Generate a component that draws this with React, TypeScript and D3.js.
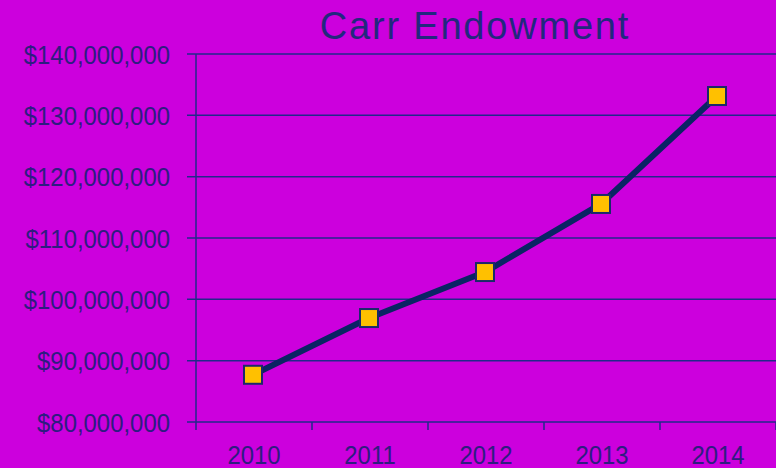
import React from "react";
import * as d3 from "d3";

const years = ["2010", "2011", "2012", "2013", "2014"];
const endowment = [87700000, 96950000, 104450000, 115550000, 133150000];
const yTicks = [80000000, 90000000, 100000000, 110000000, 120000000, 130000000, 140000000];
const title = "Carr Endowment";

export default function App() {
  const W = 776, H = 468;
  const left = 196, right = 776, top = 54, bottom = 422;
  const x = d3.scaleBand<string>().domain(years).range([left, right]);
  const y = d3.scaleLinear().domain([80000000, 140000000]).range([bottom, top]);
  const fmt = (v: number) => "$" + d3.format(",")(v);
  const line = d3
    .line<number>()
    .x((_, i) => (x(years[i]) as number) + x.bandwidth() / 2 - 1)
    .y((d) => y(d));
  const grid = "#22288A";
  const textCol = "#2E1C80";
  const font = "'Liberation Sans', Arial, sans-serif";
  return (
    <svg
      width={W}
      height={H}
      style={{ position: "absolute", left: 0, top: 0, display: "block" }}
    >
      <rect x={0} y={0} width={W} height={H} fill="#CC00DD" />
      <text
        x={475}
        y={39}
        textAnchor="middle"
        fontFamily={font}
        fontSize={38}
        letterSpacing={1.8}
        fill="#22287E"
      >
        {title}
      </text>
      {yTicks.map((t) => (
        <g key={t}>
          <line x1={187} x2={right} y1={y(t)} y2={y(t)} stroke={grid} strokeWidth={1.5} />
          <text
            transform={`translate(170,${y(t) + 9.5}) scale(0.92,1)`}
            textAnchor="end"
            fontFamily={font}
            fontSize={26}
            fill={textCol}
          >
            {fmt(t)}
          </text>
        </g>
      ))}
      <line x1={left} x2={left} y1={top} y2={bottom + 8} stroke={grid} strokeWidth={1.5} />
      {years.map((yr) => (
        <g key={yr}>
          <line
            x1={(x(yr) as number) + x.bandwidth()}
            x2={(x(yr) as number) + x.bandwidth()}
            y1={bottom}
            y2={bottom + 8}
            stroke={grid}
            strokeWidth={1.5}
          />
          <text
            transform={`translate(${(x(yr) as number) + x.bandwidth() / 2},463.5) scale(0.92,1)`}
            textAnchor="middle"
            fontFamily={font}
            fontSize={26}
            fill={textCol}
          >
            {yr}
          </text>
        </g>
      ))}
      <path d={line(endowment) || ""} fill="none" stroke="#0A2464" strokeWidth={6} strokeLinejoin="round" />
      {endowment.map((v, i) => {
        const cx = (x(years[i]) as number) + x.bandwidth() / 2 - 1;
        const cy = y(v);
        return (
          <rect
            key={i}
            x={cx - 9}
            y={cy - 9}
            width={18}
            height={18}
            fill="#FFC000"
            stroke="#1A2A6A"
            strokeWidth={2}
          />
        );
      })}
    </svg>
  );
}
